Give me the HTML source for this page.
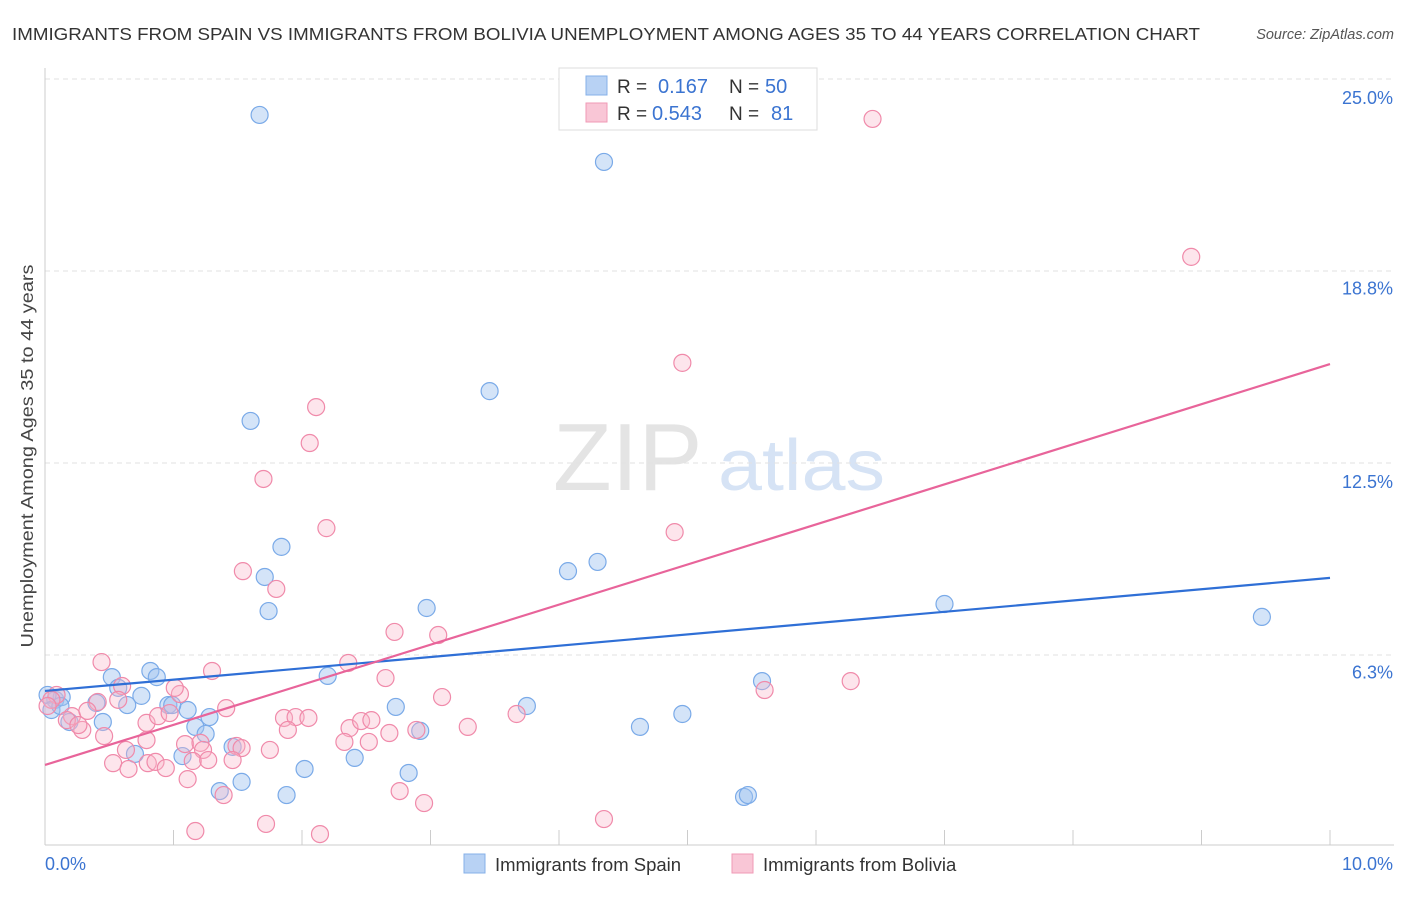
<!DOCTYPE html>
<html><head><meta charset="utf-8"><style>
body{margin:0;background:#fff;font-family:"Liberation Sans",sans-serif;}
svg text{font-family:"Liberation Sans",sans-serif;}
</style></head><body>
<svg id="chart" width="1406" height="892" xmlns="http://www.w3.org/2000/svg">
<text x="12" y="40" font-size="17.5" fill="#333" textLength="1188" lengthAdjust="spacingAndGlyphs">IMMIGRANTS FROM SPAIN VS IMMIGRANTS FROM BOLIVIA UNEMPLOYMENT AMONG AGES 35 TO 44 YEARS CORRELATION CHART</text>
<text x="1394" y="39" font-size="14.5" fill="#555" font-style="italic" text-anchor="end">Source: ZipAtlas.com</text>
<text x="33" y="456" font-size="17.5" fill="#444" text-anchor="middle" textLength="383" lengthAdjust="spacingAndGlyphs" transform="rotate(-90 33 456)">Unemployment Among Ages 35 to 44 years</text>
<g><text x="553" y="490" font-size="96" fill="#e4e4e4" font-family="Liberation Serif">ZIP</text><text x="718" y="490" font-size="72" fill="#d6e3f5" textLength="167" lengthAdjust="spacingAndGlyphs">atlas</text></g>
<g id="grid"></g><g id="axes"></g><g id="pts"></g><g id="lines"></g>
<g>
<rect x="559" y="68" width="258" height="62" fill="#fff" stroke="#ddd"/>
<rect x="586" y="76" width="21" height="19" fill="#b8d2f4" stroke="#86b0e8"/>
<rect x="586" y="103" width="21" height="19" fill="#f9c6d6" stroke="#f09ab6"/>
<text x="617" y="93" font-size="19" fill="#333">R = </text><text x="658" y="93" font-size="20" fill="#3b74d1">0.167</text>
<text x="729" y="93" font-size="19" fill="#333">N = </text><text x="765" y="93" font-size="20" fill="#3b74d1">50</text>
<text x="617" y="120" font-size="19" fill="#333">R = </text><text x="652" y="120" font-size="20" fill="#3b74d1">0.543</text>
<text x="729" y="120" font-size="19" fill="#333">N = </text><text x="771" y="120" font-size="20" fill="#3b74d1">81</text>
</g>
<g>
<rect x="464" y="854" width="21" height="19" fill="#b8d2f4" stroke="#86b0e8"/>
<text x="495" y="871" font-size="18.5" fill="#333">Immigrants from Spain</text>
<rect x="732" y="854" width="21" height="19" fill="#f9c6d6" stroke="#f09ab6"/>
<text x="763" y="871" font-size="18.5" fill="#333">Immigrants from Bolivia</text>
</g>
</svg>
<script>
const yTicks=[25.0,18.8,12.5,6.3];
const yTickLabels=["25.0%","18.8%","12.5%","6.3%"];
const xTickLabels=["0.0%","10.0%"];
const spainX=[1.67,4.35,3.46,1.60,1.84,1.71,1.74,4.07,4.30,2.97,7.00,9.47,2.20,0.82,0.87,0.52,0.57,0.75,0.40,0.64,0.96,1.11,1.28,0.99,2.73,3.75,0.08,0.13,0.02,0.05,0.19,0.45,1.17,1.25,1.46,0.70,1.07,2.02,2.41,2.92,4.63,4.96,5.58,1.36,1.53,1.88,2.83,5.44,5.47,0.12];
const spainY=[23.83,22.30,14.84,13.87,9.77,8.79,7.68,8.98,9.28,7.78,7.91,7.49,5.57,5.73,5.53,5.53,5.18,4.92,4.69,4.62,4.62,4.46,4.23,4.62,4.56,4.59,4.79,4.88,4.95,4.46,4.07,4.07,3.91,3.68,3.26,3.03,2.96,2.54,2.90,3.78,3.91,4.33,5.40,1.82,2.12,1.69,2.41,1.63,1.69,4.59];
const boliviaX=[6.44,8.92,4.96,2.11,2.06,1.70,2.19,4.90,1.54,1.80,2.72,3.06,0.44,1.30,2.36,2.65,6.27,5.60,3.09,1.05,1.01,0.60,0.57,0.41,0.09,0.05,0.02,0.21,0.17,0.29,0.46,0.79,0.88,0.97,1.41,1.86,1.95,2.05,1.89,2.37,2.46,2.54,2.89,3.29,3.67,1.09,1.21,1.23,1.49,1.53,1.75,0.79,0.80,0.53,0.65,0.86,0.94,1.15,1.27,1.46,0.63,2.33,2.52,2.68,1.11,1.39,2.76,2.95,1.17,1.72,2.14,4.35,0.26,0.33];
const boliviaY=[23.70,19.21,15.76,14.32,13.15,11.98,10.38,10.25,8.98,8.40,7.00,6.90,6.02,5.73,5.99,5.50,5.40,5.11,4.88,4.98,5.18,5.24,4.79,4.72,4.95,4.79,4.59,4.26,4.13,3.81,3.61,4.04,4.26,4.36,4.52,4.20,4.23,4.20,3.81,3.87,4.10,4.13,3.81,3.91,4.33,3.35,3.39,3.16,3.29,3.22,3.16,3.48,2.73,2.73,2.54,2.77,2.57,2.80,2.83,2.83,3.16,3.42,3.42,3.71,2.21,1.69,1.82,1.43,0.52,0.75,0.42,0.91,3.97,4.43];
const spainTrend=[5.08,8.76];
const boliviaTrend=[2.67,15.72];
const NS="http://www.w3.org/2000/svg";
const X=v=>45+v*128.5, Y=v=>847-v*30.72;
function mk(p,t,a){const e=document.createElementNS(NS,t);for(const k in a)e.setAttribute(k,a[k]);p.appendChild(e);return e;}
const grid=document.getElementById('grid'),axes=document.getElementById('axes'),pts=document.getElementById('pts'),lines=document.getElementById('lines');
const gridVals=[25,18.75,12.5,6.25];
yTicks.forEach((t,i)=>{
 const g=mk(grid,'line',{x1:45,x2:1394,y1:Y(gridVals[i]),y2:Y(gridVals[i]),stroke:'#e2e2e2','stroke-dasharray':'5,4'});
 
 
 const tx=mk(grid,'text',{x:1393,y:Y(t)+25,'font-size':18,fill:'#3b74d1','text-anchor':'end'});
 tx.textContent=yTickLabels[i];
 
 
});
const ax=mk(axes,'line',{x1:45,x2:45,y1:68,y2:845,stroke:'#ccc'});


const bx=mk(axes,'line',{x1:45,x2:1394,y1:845,y2:845,stroke:'#ccc'});


for(let i=0;i<=10;i++){const t=mk(axes,'line',{x1:X(i),x2:X(i),y1:830,y2:845,stroke:'#ccc'});
 
 }
xTickLabels.forEach((l,i)=>{const t=mk(axes,'text',{x:i?1393:45,y:870,'font-size':18,fill:'#3b74d1','text-anchor':i?'end':'start'});t.textContent=l;
 
 });
spainX.forEach((x,i)=>{const c=mk(pts,'circle',{cx:X(x),cy:Y(spainY[i]),r:8.5,fill:'rgba(160,196,240,0.45)',stroke:'#7aaae8','stroke-width':1.2});
 
 });
boliviaX.forEach((x,i)=>{const c=mk(pts,'circle',{cx:X(x),cy:Y(boliviaY[i]),r:8.5,fill:'rgba(248,180,200,0.35)',stroke:'#f08aaa','stroke-width':1.2});
 
 });
const l1=mk(lines,'line',{x1:X(0),y1:Y(spainTrend[0]),x2:X(10),y2:Y(spainTrend[1]),stroke:'#2f6fd6','stroke-width':2.2});


const l2=mk(lines,'line',{x1:X(0),y1:Y(boliviaTrend[0]),x2:X(10),y2:Y(boliviaTrend[1]),stroke:'#e8649a','stroke-width':2.2});


</script>
</body></html>
